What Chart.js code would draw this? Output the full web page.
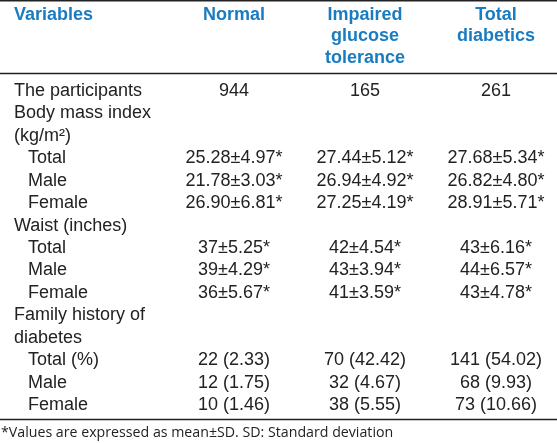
<!DOCTYPE html>
<html lang="en">
<head>
  <meta charset="UTF-8" />
  <title>Participants table</title>
  <script src="https://cdn.jsdelivr.net/npm/chart.js"></script>
  <style>
    html, body { margin: 0; padding: 0; background: #fff; }
    canvas { display: block; }
  </style>
</head>
<body>
  <canvas id="table" width="557" height="443"></canvas>

  <script>
    // table content
    const headers = [
      ["Variables"],
      ["Normal"],
      ["Impaired", "glucose", "tolerance"],
      ["Total", "diabetics"]
    ];
    const rowLabels = [
      "The participants", "Body mass index", "(kg/m\u00B2)", "Total", "Male", "Female",
      "Waist (inches)", "Total", "Male", "Female",
      "Family history of", "diabetes", "Total (%)", "Male", "Female"
    ];
    const subRow = [false, false, false, true, true, true, false, true, true, true, false, false, true, true, true];
    const normal = [
      "944", "", "", "25.28\u00B14.97*", "21.78\u00B13.03*", "26.90\u00B16.81*",
      "", "37\u00B15.25*", "39\u00B14.29*", "36\u00B15.67*",
      "", "", "22 (2.33)", "12 (1.75)", "10 (1.46)"
    ];
    const impaired = [
      "165", "", "", "27.44\u00B15.12*", "26.94\u00B14.92*", "27.25\u00B14.19*",
      "", "42\u00B14.54*", "43\u00B13.94*", "41\u00B13.59*",
      "", "", "70 (42.42)", "32 (4.67)", "38 (5.55)"
    ];
    const totalDiabetics = [
      "261", "", "", "27.68\u00B15.34*", "26.82\u00B14.80*", "28.91\u00B15.71*",
      "", "43\u00B16.16*", "44\u00B16.57*", "43\u00B14.78*",
      "", "", "141 (54.02)", "68 (9.93)", "73 (10.66)"
    ];
    const footnote = "*Values are expressed as mean\u00B1SD. SD: Standard deviation";

    // layout (pixels)
    const colX = [14, 234, 365, 496];
    const indentX = 28;
    const headerTop = 15, headerStep = 21.5;

    const tablePlugin = {
      id: "tableText",
      afterDraw(chart) {
        const ctx = chart.ctx;
        const x = chart.scales.x, y = chart.scales.y;
        ctx.save();
        ctx.textBaseline = "middle";

        // rules
        ctx.strokeStyle = "#222";
        ctx.lineWidth = 1.5;
        [0.8, 73.5, 419.5].forEach(py => {
          ctx.beginPath();
          ctx.moveTo(x.getPixelForValue(0), py);
          ctx.lineTo(x.getPixelForValue(557), py);
          ctx.stroke();
        });

        // header
        ctx.font = "bold 18px 'Liberation Sans', Arial, sans-serif";
        ctx.fillStyle = "#1a7cc0";
        headers.forEach((lines, c) => {
          ctx.textAlign = c === 0 ? "left" : "center";
          lines.forEach((t, k) => ctx.fillText(t, x.getPixelForValue(colX[c]), headerTop + k * headerStep));
        });

        // body
        ctx.font = "18px 'Liberation Sans', Arial, sans-serif";
        ctx.fillStyle = "#222";
        rowLabels.forEach((label, i) => {
          const py = y.getPixelForValue(i);
          ctx.textAlign = "left";
          ctx.fillText(label, x.getPixelForValue(subRow[i] ? indentX : colX[0]), py);
          ctx.textAlign = "center";
          ctx.fillText(normal[i], x.getPixelForValue(colX[1]), py);
          ctx.fillText(impaired[i], x.getPixelForValue(colX[2]), py);
          ctx.fillText(totalDiabetics[i], x.getPixelForValue(colX[3]), py);
        });

        // footnote
        ctx.font = "14.2px 'Open Sans', sans-serif";
        ctx.textAlign = "left";
        ctx.fillStyle = "#222";
        ctx.fillText(footnote, 1, 433);
        ctx.restore();
      }
    };

    new Chart(document.getElementById("table"), {
      type: "scatter",
      data: { datasets: [{ data: [] }] },
      options: {
        responsive: false,
        animation: false,
        layout: { padding: 0 },
        plugins: { legend: { display: false }, tooltip: { enabled: false } },
        scales: {
          x: { type: "linear", min: 0, max: 557, display: false },
          // one unit per table row, row 0 centred at y = 91
          y: { type: "linear", reverse: true, min: -91 / 22.43, max: (443 - 91) / 22.43, display: false }
        }
      },
      plugins: [tablePlugin]
    });
  </script>
</body>
</html>
